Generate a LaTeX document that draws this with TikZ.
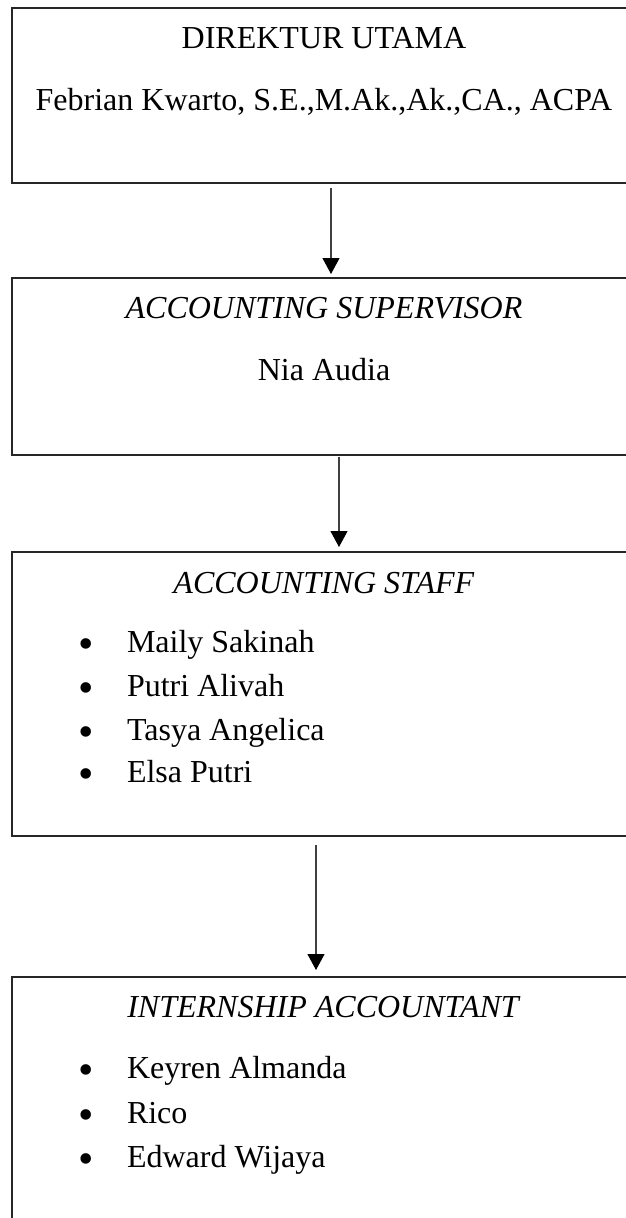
\documentclass[tikz,border=0pt]{standalone}
\usepackage{fontspec}
\setmainfont{Liberation Serif}
\usetikzlibrary{arrows.meta}

\begin{document}
\begin{tikzpicture}[x=1pt,y=-1pt]

  \tikzset{every node/.style={inner sep=0pt, outer sep=0pt, font=\fontsize{32}{38}\selectfont}}
  \tikzset{orgbox/.style={draw=black!85, line width=1.2pt, anchor=north west, minimum width=624pt}}
  \tikzset{title/.style={anchor=base}}
  \tikzset{member/.style={anchor=base west}}
  \tikzset{dot/.style={anchor=base, yshift=-6pt, font=\fontsize{44}{44}\selectfont}}
  \tikzset{link/.style={draw=black!75, line width=1.1pt, -{Triangle[width=17pt,length=16pt,black]}}}

  \useasboundingbox (0,0) rectangle (626,1218);

  % boxes
  \node [orgbox, minimum height=175pt] (dir) at (12,8) {};
  \node [orgbox, minimum height=177pt] (sup) at (12,278) {};
  \node [orgbox, minimum height=284pt] (staff) at (12,552) {};
  \node [orgbox, minimum height=280pt] (intern) at (12,977) {};

  % direktur
  \node [title] (dirT) at (324,48) {DIREKTUR UTAMA};
  \node [title] (dirN) at (324,110) {Febrian Kwarto, S.E.,M.Ak.,Ak.,CA., ACPA};

  % supervisor
  \node [title] (supT) at (324,318) {\textit{ACCOUNTING SUPERVISOR}};
  \node [title] (supN) at (324,380) {Nia Audia};

  % staff
  \node [title] (staffT) at (324,593) {\textit{ACCOUNTING STAFF}};
  \node [dot] (staffB1) at (86,652) {•};
  \node [member] (staff1) at (127,652) {Maily Sakinah};
  \node [dot] (staffB2) at (86,696) {•};
  \node [member] (staff2) at (127,696) {Putri Alivah};
  \node [dot] (staffB3) at (86,740) {•};
  \node [member] (staff3) at (127,740) {Tasya Angelica};
  \node [dot] (staffB4) at (86,782) {•};
  \node [member] (staff4) at (127,782) {Elsa Putri};

  % internship
  \node [title] (internT) at (324,1017) {\textit{INTERNSHIP ACCOUNTANT}};
  \node [dot] (internB1) at (86,1078) {•};
  \node [member] (intern1) at (127,1078) {Keyren Almanda};
  \node [dot] (internB2) at (86,1123) {•};
  \node [member] (intern2) at (127,1123) {Rico};
  \node [dot] (internB3) at (86,1167) {•};
  \node [member] (intern3) at (127,1167) {Edward Wijaya};

  % arrows
  \draw [link] ([xshift=7pt,yshift=-5pt]dir.south) -- ([xshift=7pt,yshift=4pt]sup.north);
  \draw [link] ([xshift=15pt,yshift=-2pt]sup.south) -- ([xshift=15pt,yshift=5pt]staff.north);
  \draw [link] ([xshift=-8pt,yshift=-9pt]staff.south) -- ([xshift=-8pt,yshift=7pt]intern.north);

\end{tikzpicture}
\end{document}
